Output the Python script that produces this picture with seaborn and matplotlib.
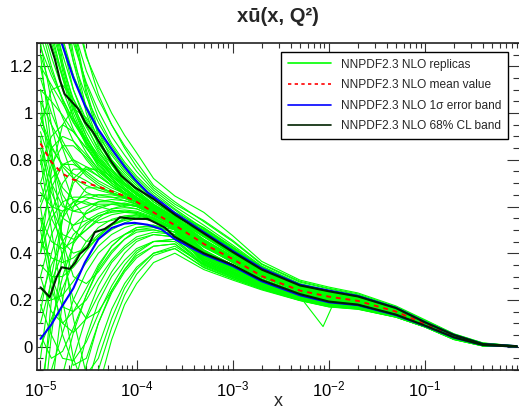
import numpy as np
import pandas as pd
import matplotlib
matplotlib.use("Agg")
import matplotlib.pyplot as plt
import seaborn as sns
from matplotlib.lines import Line2D
from matplotlib.ticker import FixedLocator, FixedFormatter, LogLocator, NullFormatter, MultipleLocator

# ---------------- data ----------------
X_GRID = [1e-5, 1.3e-5, 1.7e-5, 2.2e-5, 3e-5, 4e-5, 5.5e-5, 7.5e-5, 1e-4, 1.5e-4, 2.5e-4,
          5e-4, 1e-3, 2e-3, 5e-3, 1e-2, 2e-2, 5e-2, 0.1, 0.2, 0.4, 0.9]

REPLICAS = [
    [2.3, 1.95, 1.68, 1.45, 1.24, 1.12, 1.0, 0.905, 0.83, 0.72, 0.645, 0.575, 0.475, 0.365, 0.285, 0.255, 0.23, 0.174, 0.115, 0.055, 0.016, 0.003],
    [2.1, 1.8, 1.56, 1.36, 1.18, 1.06, 0.95, 0.86, 0.79, 0.69, 0.62, 0.535, 0.45, 0.352, 0.276, 0.247, 0.222, 0.166, 0.108, 0.051, 0.013, 0.002],
    [1.95, 1.7, 1.48, 1.3, 1.13, 1.01, 0.9, 0.82, 0.75, 0.67, 0.6, 0.52, 0.435, 0.345, 0.27, 0.24, 0.218, 0.17, 0.112, 0.053, 0.015, 0.002],
    [1.8, 1.58, 1.4, 1.22, 1.07, 0.96, 0.86, 0.78, 0.72, 0.65, 0.585, 0.495, 0.415, 0.335, 0.26, 0.236, 0.212, 0.158, 0.102, 0.048, 0.011, 0.002],
    [1.7, 1.5, 1.32, 1.16, 1.02, 0.92, 0.83, 0.76, 0.7, 0.63, 0.57, 0.485, 0.405, 0.328, 0.255, 0.228, 0.208, 0.162, 0.106, 0.05, 0.012, 0.002],
    [1.62, 1.42, 1.25, 1.1, 0.97, 0.88, 0.8, 0.74, 0.69, 0.62, 0.56, 0.445, 0.378, 0.303, 0.238, 0.216, 0.198, 0.152, 0.098, 0.046, 0.01, 0.001],
    [1.55, 1.36, 1.2, 1.06, 0.94, 0.85, 0.78, 0.72, 0.67, 0.61, 0.555, 0.48, 0.4, 0.322, 0.252, 0.225, 0.205, 0.157, 0.101, 0.047, 0.01, 0.001],
    [2.4, 1.9, 1.5, 1.22, 1.0, 0.86, 0.76, 0.69, 0.65, 0.6, 0.55, 0.455, 0.38, 0.31, 0.243, 0.218, 0.2, 0.148, 0.095, 0.044, 0.009, 0.001],
    [2.0, 1.6, 1.3, 1.1, 0.95, 0.84, 0.76, 0.7, 0.66, 0.6, 0.545, 0.43, 0.36, 0.29, 0.23, 0.205, 0.188, 0.143, 0.093, 0.041, 0.007, 0.001],
    [1.9, 1.5, 1.22, 1.04, 0.9, 0.8, 0.73, 0.68, 0.64, 0.59, 0.54, 0.45, 0.37, 0.3, 0.236, 0.21, 0.193, 0.151, 0.099, 0.046, 0.01, 0.001],
    [1.75, 1.42, 1.18, 1.0, 0.87, 0.78, 0.72, 0.67, 0.63, 0.585, 0.535, 0.41, 0.345, 0.285, 0.226, 0.2, 0.185, 0.141, 0.091, 0.04, 0.007, 0.001],
    [1.6, 1.35, 1.15, 0.98, 0.86, 0.77, 0.71, 0.66, 0.625, 0.58, 0.53, 0.44, 0.372, 0.306, 0.242, 0.216, 0.197, 0.149, 0.096, 0.044, 0.009, 0.001],
    [1.45, 1.3, 1.15, 1.02, 0.9, 0.81, 0.74, 0.69, 0.65, 0.6, 0.545, 0.47, 0.395, 0.318, 0.25, 0.226, 0.206, 0.158, 0.103, 0.049, 0.012, 0.002],
    [1.4, 1.24, 1.1, 0.98, 0.88, 0.8, 0.73, 0.68, 0.64, 0.595, 0.54, 0.455, 0.385, 0.31, 0.244, 0.22, 0.2, 0.153, 0.1, 0.046, 0.009, 0.001],
    [1.38, 1.2, 1.05, 0.93, 0.83, 0.76, 0.7, 0.66, 0.63, 0.58, 0.53, 0.405, 0.345, 0.283, 0.224, 0.196, 0.182, 0.139, 0.091, 0.039, 0.006, 0.001],
    [1.33, 1.18, 1.06, 0.96, 0.87, 0.8, 0.74, 0.69, 0.65, 0.595, 0.54, 0.49, 0.41, 0.33, 0.257, 0.232, 0.21, 0.16, 0.104, 0.049, 0.012, 0.002],
    [2.6, 2.0, 1.55, 1.25, 1.02, 0.88, 0.78, 0.71, 0.66, 0.61, 0.555, 0.5, 0.42, 0.338, 0.265, 0.238, 0.215, 0.163, 0.106, 0.05, 0.013, 0.002],
    [2.2, 1.85, 1.55, 1.32, 1.12, 0.98, 0.87, 0.79, 0.73, 0.66, 0.59, 0.505, 0.425, 0.34, 0.262, 0.24, 0.216, 0.164, 0.107, 0.05, 0.013, 0.002],
    [2.5, 2.1, 1.75, 1.48, 1.25, 1.08, 0.95, 0.85, 0.77, 0.68, 0.61, 0.54, 0.455, 0.355, 0.28, 0.25, 0.226, 0.17, 0.112, 0.054, 0.015, 0.003],
    [1.5, 1.32, 1.16, 1.03, 0.92, 0.83, 0.76, 0.7, 0.66, 0.6, 0.55, 0.46, 0.388, 0.312, 0.246, 0.22, 0.2, 0.152, 0.098, 0.045, 0.009, 0.001],
    [3.0, 2.3, 1.75, 1.38, 1.1, 0.92, 0.8, 0.72, 0.67, 0.61, 0.55, 0.475, 0.398, 0.32, 0.25, 0.224, 0.204, 0.156, 0.101, 0.047, 0.011, 0.001],
    [1.28, 1.16, 1.06, 0.97, 0.89, 0.82, 0.75, 0.7, 0.66, 0.605, 0.55, 0.47, 0.392, 0.316, 0.248, 0.222, 0.202, 0.155, 0.1, 0.046, 0.01, 0.001],
    [1.25, 1.1, 0.98, 0.88, 0.8, 0.74, 0.69, 0.65, 0.62, 0.575, 0.525, 0.415, 0.35, 0.287, 0.228, 0.202, 0.186, 0.142, 0.092, 0.041, 0.007, 0.001],
    [1.15, 1.0, 0.88, 0.8, 0.74, 0.7, 0.67, 0.645, 0.62, 0.58, 0.525, 0.435, 0.368, 0.3, 0.237, 0.212, 0.194, 0.148, 0.096, 0.044, 0.009, 0.001],
    [1.05, 0.95, 0.86, 0.79, 0.73, 0.69, 0.66, 0.64, 0.615, 0.575, 0.52, 0.41, 0.348, 0.285, 0.227, 0.2, 0.185, 0.142, 0.092, 0.04, 0.007, 0.001],
    [0.98, 0.86, 0.77, 0.72, 0.69, 0.67, 0.655, 0.635, 0.61, 0.57, 0.515, 0.44, 0.372, 0.302, 0.238, 0.212, 0.195, 0.15, 0.097, 0.045, 0.009, 0.001],
    [0.92, 0.78, 0.68, 0.63, 0.61, 0.61, 0.61, 0.6, 0.59, 0.56, 0.51, 0.402, 0.34, 0.28, 0.222, 0.196, 0.182, 0.14, 0.091, 0.04, 0.007, 0.001],
    [0.85, 0.66, 0.55, 0.52, 0.54, 0.57, 0.59, 0.595, 0.59, 0.56, 0.515, 0.43, 0.365, 0.298, 0.236, 0.21, 0.192, 0.147, 0.095, 0.043, 0.008, 0.001],
    [0.78, 0.9, 0.95, 0.92, 0.85, 0.78, 0.72, 0.67, 0.64, 0.59, 0.535, 0.488, 0.408, 0.33, 0.256, 0.23, 0.208, 0.159, 0.103, 0.048, 0.011, 0.002],
    [0.7, 0.85, 0.9, 0.88, 0.82, 0.76, 0.71, 0.67, 0.635, 0.585, 0.53, 0.445, 0.378, 0.308, 0.242, 0.216, 0.198, 0.151, 0.098, 0.045, 0.009, 0.001],
    [0.62, 0.78, 0.86, 0.86, 0.81, 0.75, 0.7, 0.66, 0.63, 0.58, 0.525, 0.398, 0.338, 0.279, 0.221, 0.195, 0.18, 0.138, 0.09, 0.039, 0.006, 0.001],
    [0.55, 0.45, 0.42, 0.45, 0.5, 0.54, 0.565, 0.575, 0.575, 0.55, 0.505, 0.395, 0.336, 0.278, 0.222, 0.19, 0.176, 0.136, 0.089, 0.038, 0.006, 0.0],
    [1.2, 0.95, 0.75, 0.62, 0.55, 0.53, 0.54, 0.555, 0.56, 0.545, 0.5, 0.365, 0.312, 0.262, 0.208, 0.18, 0.168, 0.131, 0.087, 0.035, 0.005, 0.0],
    [0.88, 0.7, 0.6, 0.58, 0.6, 0.62, 0.63, 0.625, 0.61, 0.575, 0.52, 0.438, 0.374, 0.304, 0.24, 0.215, 0.197, 0.15, 0.097, 0.045, 0.009, 0.001],
    [0.5, 0.68, 0.78, 0.8, 0.77, 0.73, 0.69, 0.655, 0.625, 0.58, 0.525, 0.492, 0.412, 0.334, 0.26, 0.234, 0.212, 0.161, 0.105, 0.049, 0.012, 0.002],
    [0.66, 0.6, 0.58, 0.6, 0.63, 0.65, 0.65, 0.64, 0.62, 0.58, 0.525, 0.442, 0.376, 0.306, 0.241, 0.214, 0.196, 0.15, 0.097, 0.045, 0.009, 0.001],
    [1.1, 0.82, 0.65, 0.58, 0.57, 0.59, 0.61, 0.615, 0.605, 0.57, 0.515, 0.403, 0.344, 0.283, 0.225, 0.198, 0.184, 0.141, 0.092, 0.04, 0.007, 0.001],
    [0.45, 0.58, 0.7, 0.76, 0.76, 0.73, 0.69, 0.66, 0.63, 0.585, 0.53, 0.448, 0.38, 0.31, 0.243, 0.217, 0.199, 0.152, 0.099, 0.046, 0.01, 0.001],
    [0.2, 0.35, 0.45, 0.52, 0.57, 0.6, 0.61, 0.61, 0.6, 0.565, 0.51, 0.4, 0.342, 0.282, 0.224, 0.198, 0.183, 0.14, 0.092, 0.04, 0.007, 0.001],
    [0.1, 0.28, 0.4, 0.48, 0.53, 0.56, 0.575, 0.58, 0.575, 0.55, 0.5, 0.362, 0.312, 0.26, 0.207, 0.182, 0.17, 0.132, 0.087, 0.035, 0.005, 0.0],
    [0.35, 0.3, 0.3, 0.34, 0.41, 0.47, 0.52, 0.545, 0.555, 0.54, 0.5, 0.39, 0.332, 0.276, 0.22, 0.193, 0.178, 0.137, 0.09, 0.039, 0.006, 0.001],
    [0.4, 0.55, 0.62, 0.64, 0.64, 0.63, 0.62, 0.61, 0.6, 0.565, 0.51, 0.432, 0.368, 0.3, 0.237, 0.212, 0.194, 0.149, 0.096, 0.044, 0.009, 0.001],
    [0.25, 0.2, 0.22, 0.28, 0.36, 0.43, 0.48, 0.51, 0.525, 0.52, 0.49, 0.358, 0.308, 0.258, 0.206, 0.181, 0.169, 0.131, 0.087, 0.035, 0.005, 0.0],
    [0.0, 0.12, 0.25, 0.36, 0.45, 0.51, 0.545, 0.56, 0.565, 0.545, 0.5, 0.396, 0.338, 0.28, 0.223, 0.197, 0.182, 0.139, 0.091, 0.04, 0.007, 0.001],
    [0.3, 0.48, 0.58, 0.62, 0.62, 0.6, 0.585, 0.575, 0.57, 0.55, 0.505, 0.41, 0.35, 0.288, 0.228, 0.203, 0.187, 0.143, 0.093, 0.041, 0.008, 0.001],
    [0.15, 0.4, 0.55, 0.62, 0.65, 0.65, 0.64, 0.625, 0.61, 0.575, 0.52, 0.45, 0.382, 0.31, 0.244, 0.218, 0.199, 0.152, 0.099, 0.046, 0.01, 0.001],
    [0.45, 0.38, 0.36, 0.38, 0.43, 0.48, 0.52, 0.54, 0.55, 0.54, 0.5, 0.37, 0.318, 0.265, 0.21, 0.184, 0.172, 0.133, 0.088, 0.036, 0.005, 0.0],
    [-0.6, -0.35, -0.12, 0.06, 0.22, 0.33, 0.41, 0.46, 0.49, 0.5, 0.48, 0.375, 0.32, 0.267, 0.212, 0.186, 0.173, 0.134, 0.088, 0.036, 0.005, 0.0],
    [-1.0, -0.7, -0.42, -0.18, 0.04, 0.19, 0.3, 0.37, 0.42, 0.45, 0.45, 0.355, 0.305, 0.256, 0.204, 0.176, 0.165, 0.128, 0.085, 0.033, 0.004, 0.0],
    [-1.5, -1.1, -0.75, -0.45, -0.18, 0.0, 0.16, 0.27, 0.34, 0.4, 0.42, 0.34, 0.292, 0.247, 0.199, 0.172, 0.162, 0.127, 0.084, 0.031, 0.003, 0.0],
    [-2.0, -1.5, -1.1, -0.75, -0.42, -0.18, 0.03, 0.18, 0.27, 0.36, 0.4, 0.33, 0.285, 0.243, 0.197, 0.17, 0.16, 0.126, 0.084, 0.03, 0.003, 0.0],
    [-0.3, -0.1, 0.06, 0.2, 0.32, 0.4, 0.45, 0.48, 0.5, 0.5, 0.48, 0.39, 0.334, 0.277, 0.221, 0.194, 0.18, 0.138, 0.09, 0.039, 0.006, 0.001],
    [-0.8, -0.5, -0.25, -0.05, 0.13, 0.26, 0.36, 0.42, 0.46, 0.48, 0.47, 0.368, 0.316, 0.264, 0.21, 0.185, 0.172, 0.133, 0.088, 0.036, 0.005, 0.0],
    [-1.2, -0.9, -0.6, -0.32, -0.08, 0.1, 0.23, 0.32, 0.38, 0.43, 0.44, 0.35, 0.3, 0.252, 0.202, 0.175, 0.164, 0.128, 0.085, 0.033, 0.004, 0.0],
    [0.6, 0.3, 0.05, -0.08, -0.05, 0.1, 0.24, 0.33, 0.39, 0.43, 0.44, 0.345, 0.296, 0.25, 0.2, 0.174, 0.163, 0.127, 0.085, 0.032, 0.004, 0.0],
    [0.8, 0.5, 0.2, -0.05, -0.2, -0.1, 0.08, 0.22, 0.31, 0.39, 0.42, 0.338, 0.29, 0.246, 0.198, 0.171, 0.161, 0.126, 0.084, 0.031, 0.003, 0.0],
    [1.25, 0.85, 0.45, 0.12, -0.12, -0.05, 0.12, 0.25, 0.33, 0.4, 0.43, 0.352, 0.302, 0.254, 0.203, 0.178, 0.166, 0.129, 0.086, 0.034, 0.004, 0.0],
    [-0.4, 0.05, 0.4, 0.6, 0.68, 0.68, 0.66, 0.64, 0.62, 0.58, 0.525, 0.485, 0.406, 0.328, 0.256, 0.229, 0.207, 0.158, 0.103, 0.048, 0.011, 0.002],
    [-0.3, 0.2, 0.55, 0.72, 0.77, 0.75, 0.71, 0.675, 0.64, 0.59, 0.535, 0.497, 0.418, 0.337, 0.262, 0.236, 0.214, 0.162, 0.106, 0.05, 0.013, 0.002],
    [0.55, 0.3, 0.17, 0.15, 0.2, 0.29, 0.37, 0.43, 0.47, 0.49, 0.48, 0.378, 0.322, 0.268, 0.213, 0.187, 0.174, 0.134, 0.088, 0.036, 0.005, 0.0],
    [0.18, 0.05, -0.05, -0.06, 0.02, 0.14, 0.26, 0.35, 0.41, 0.45, 0.46, 0.36, 0.308, 0.258, 0.206, 0.18, 0.168, 0.13, 0.086, 0.034, 0.004, 0.0],
    [1.3, 1.05, 0.85, 0.72, 0.66, 0.64, 0.64, 0.635, 0.62, 0.58, 0.525, 0.438, 0.372, 0.303, 0.239, 0.213, 0.195, 0.149, 0.096, 0.044, 0.009, 0.001],
    [0.95, 1.1, 1.12, 1.06, 0.96, 0.87, 0.79, 0.73, 0.68, 0.62, 0.56, 0.5, 0.418, 0.336, 0.259, 0.233, 0.211, 0.161, 0.105, 0.049, 0.012, 0.002],
    [0.4, 0.75, 0.95, 1.02, 0.98, 0.9, 0.82, 0.75, 0.7, 0.63, 0.565, 0.507, 0.424, 0.34, 0.263, 0.237, 0.214, 0.163, 0.106, 0.05, 0.013, 0.002],
    [0.3, 0.15, 0.1, 0.15, 0.25, 0.35, 0.43, 0.48, 0.51, 0.52, 0.5, 0.385, 0.328, 0.272, 0.216, 0.19, 0.176, 0.136, 0.089, 0.038, 0.006, 0.0],
    [0.7, 0.55, 0.45, 0.4, 0.42, 0.47, 0.52, 0.55, 0.565, 0.55, 0.505, 0.412, 0.35, 0.288, 0.228, 0.203, 0.186, 0.143, 0.093, 0.041, 0.008, 0.001],
    [1.0, 0.8, 0.62, 0.5, 0.45, 0.46, 0.5, 0.53, 0.55, 0.54, 0.5, 0.378, 0.322, 0.268, 0.213, 0.187, 0.174, 0.134, 0.088, 0.037, 0.005, 0.0],
    [-0.05, 0.3, 0.55, 0.7, 0.76, 0.76, 0.73, 0.69, 0.65, 0.6, 0.54, 0.478, 0.4, 0.324, 0.253, 0.226, 0.206, 0.157, 0.102, 0.047, 0.011, 0.002],
    [0.05, -0.05, -0.02, 0.08, 0.22, 0.34, 0.43, 0.48, 0.51, 0.515, 0.49, 0.388, 0.33, 0.274, 0.218, 0.192, 0.178, 0.137, 0.09, 0.038, 0.006, 0.0],
    [1.05, 0.7, 0.45, 0.3, 0.27, 0.32, 0.4, 0.46, 0.5, 0.51, 0.49, 0.382, 0.326, 0.271, 0.215, 0.189, 0.175, 0.135, 0.089, 0.037, 0.006, 0.0],
    [0.6, 0.72, 0.78, 0.78, 0.75, 0.71, 0.68, 0.655, 0.63, 0.585, 0.53, 0.452, 0.383, 0.31, 0.244, 0.218, 0.2, 0.152, 0.099, 0.046, 0.01, 0.001],
    [1.2, 1.12, 1.04, 0.96, 0.88, 0.81, 0.75, 0.7, 0.66, 0.605, 0.55, 0.472, 0.396, 0.321, 0.251, 0.226, 0.205, 0.156, 0.101, 0.047, 0.011, 0.001],
    [1.1, 1.05, 0.99, 0.92, 0.85, 0.79, 0.74, 0.69, 0.655, 0.6, 0.545, 0.458, 0.385, 0.313, 0.246, 0.22, 0.201, 0.153, 0.1, 0.046, 0.01, 0.001],
    [0.82, 0.6, 0.48, 0.46, 0.5, 0.55, 0.59, 0.605, 0.605, 0.57, 0.515, 0.425, 0.362, 0.296, 0.234, 0.208, 0.191, 0.146, 0.095, 0.043, 0.008, 0.001],
    [-0.2, 0.1, 0.3, 0.44, 0.52, 0.56, 0.58, 0.585, 0.58, 0.555, 0.505, 0.408, 0.348, 0.286, 0.226, 0.2, 0.185, 0.142, 0.092, 0.04, 0.007, 0.001],
    [0.9, 0.62, 0.38, 0.2, 0.12, 0.15, 0.24, 0.33, 0.4, 0.45, 0.46, 0.35, 0.298, 0.25, 0.2, 0.174, 0.163, 0.127, 0.085, 0.032, 0.004, 0.0],
    [1.8, 1.45, 1.2, 1.02, 0.88, 0.79, 0.72, 0.67, 0.635, 0.59, 0.54, 0.432, 0.366, 0.3, 0.236, 0.211, 0.194, 0.148, 0.096, 0.044, 0.009, 0.001],
    [2.8, 2.2, 1.7, 1.35, 1.08, 0.9, 0.78, 0.7, 0.65, 0.6, 0.545, 0.448, 0.38, 0.308, 0.242, 0.217, 0.199, 0.151, 0.098, 0.045, 0.009, 0.001],
    [1.6, 1.45, 1.3, 1.16, 1.03, 0.93, 0.84, 0.77, 0.71, 0.64, 0.575, 0.51, 0.428, 0.343, 0.265, 0.24, 0.217, 0.165, 0.108, 0.051, 0.013, 0.002],
    [-0.7, -0.2, 0.2, 0.45, 0.58, 0.62, 0.62, 0.61, 0.6, 0.565, 0.515, 0.43, 0.366, 0.3, 0.237, 0.212, 0.194, 0.148, 0.096, 0.044, 0.009, 0.001],
    [0.5, 0.25, 0.1, 0.06, 0.12, 0.22, 0.32, 0.4, 0.45, 0.48, 0.47, 0.37, 0.316, 0.264, 0.21, 0.184, 0.171, 0.132, 0.087, 0.036, 0.005, 0.0],
]

# replica with a sharp dip near x = 1e-2
DIP_X = [1e-5, 1.3e-5, 1.7e-5, 2.2e-5, 3e-5, 4e-5, 5.5e-5, 7.5e-5, 1e-4, 1.5e-4, 2.5e-4,
         5e-4, 1e-3, 2e-3, 5.1e-3, 8.7e-3, 1.13e-2, 2e-2, 5e-2, 0.1, 0.2, 0.4, 0.9]
DIP_Y = [0.95, 0.85, 0.78, 0.74, 0.71, 0.68, 0.66, 0.64, 0.62, 0.575, 0.52,
         0.43, 0.36, 0.29, 0.21, 0.086, 0.19, 0.188, 0.142, 0.094, 0.043, 0.008, 0.001]

MEAN_VALUES = [0.87, 0.79, 0.74, 0.715, 0.70, 0.685, 0.665, 0.645, 0.62, 0.575, 0.52,
               0.44, 0.375, 0.302, 0.24, 0.214, 0.196, 0.15, 0.097, 0.045, 0.009, 0.001]

SIGMA_X = [1e-5, 1.3e-5, 1.66e-5, 2.2e-5, 2.9e-5, 4e-5, 5.5e-5, 7.5e-5, 9.5e-5, 1.3e-4, 1.8e-4,
           2.5e-4, 5e-4, 1e-3, 2e-3, 5e-3, 1e-2, 2e-2, 5e-2, 0.1, 0.2, 0.4, 0.9]
SIGMA_UP = [1.75, 1.50, 1.30, 1.15, 1.032, 0.93, 0.847, 0.77, 0.718, 0.66, 0.618,
            0.572, 0.49, 0.41, 0.335, 0.265, 0.24, 0.217, 0.166, 0.105, 0.05, 0.011, 0.002]
SIGMA_LO = [0.033, 0.095, 0.17, 0.25, 0.361, 0.46, 0.508, 0.527, 0.53, 0.522, 0.503,
            0.46, 0.395, 0.345, 0.28, 0.22, 0.19, 0.178, 0.135, 0.089, 0.039, 0.007, 0.0]

CL_UP_X = [1e-5, 1.25e-5, 1.41e-5, 1.6e-5, 1.78e-5, 2.1e-5, 2.47e-5, 2.9e-5, 3.5e-5, 4.3e-5, 5.5e-5,
           6.9e-5, 9.5e-5, 1.5e-4, 2.5e-4, 5e-4, 1e-3, 2e-3, 5e-3, 1e-2, 2e-2, 5e-2, 0.1, 0.2, 0.4, 0.9]
CL_UP = [1.42, 1.30, 1.232, 1.14, 1.082, 1.05, 1.018, 0.961, 0.92, 0.861, 0.79,
         0.732, 0.683, 0.632, 0.565, 0.485, 0.405, 0.33, 0.262, 0.237, 0.215, 0.165, 0.104, 0.05, 0.011, 0.002]

CL_LO_X = [1e-5, 1.25e-5, 1.47e-5, 1.66e-5, 2.02e-5, 2.3e-5, 2.57e-5, 3.1e-5, 3.67e-5, 4.66e-5, 5.9e-5,
           6.7e-5, 8e-5, 9.5e-5, 1.3e-4, 1.95e-4, 2.5e-4, 5e-4, 1e-3, 2e-3, 5e-3, 1e-2, 2e-2, 5e-2, 0.1, 0.2, 0.4, 0.9]
CL_LO = [0.254, 0.212, 0.297, 0.34, 0.333, 0.36, 0.397, 0.426, 0.49, 0.504, 0.533,
         0.554, 0.55, 0.547, 0.547, 0.511, 0.47, 0.40, 0.35, 0.285, 0.225, 0.193, 0.18, 0.137, 0.09, 0.04, 0.007, 0.0]

X_TICKS = [1e-5, 1e-4, 1e-3, 1e-2, 1e-1]
X_TICK_LABELS = [r"$10^{-5}$", r"$10^{-4}$", r"$10^{-3}$", r"$10^{-2}$", r"$10^{-1}$"]
Y_TICKS = [0, 0.2, 0.4, 0.6, 0.8, 1.0, 1.2]
Y_TICK_LABELS = ["0", "0.2", "0.4", "0.6", "0.8", "1", "1.2"]
LEGEND_LABELS = ["NNPDF2.3 NLO replicas", "NNPDF2.3 NLO mean value",
                 "NNPDF2.3 NLO 1σ error band", "NNPDF2.3 NLO 68% CL band"]
TITLE = "xū(x, Q²)"

# ---------------- style ----------------
sns.set_theme(style="ticks")
plt.rcParams["font.family"] = ["Liberation Sans", "DejaVu Sans"]
plt.rcParams["mathtext.fontset"] = "custom"
plt.rcParams["mathtext.rm"] = "Liberation Sans"
plt.rcParams["mathtext.it"] = "Liberation Sans"
plt.rcParams["mathtext.default"] = "rm"

GREEN = "#00ff00"
RED = "#ff0000"
BLUE = "#0000ff"
DARK = "#002200"

fig = plt.figure(figsize=(5.19, 4.12), dpi=100)
fig.patch.set_facecolor("white")
ax = fig.add_axes([37 / 519, 42 / 412, (519 - 37) / 519, (370 - 43) / 412])
ax.set_facecolor("white")

rows = []
for i, vals in enumerate(REPLICAS):
    for xv, yv in zip(X_GRID, vals):
        rows.append((i, xv, yv))
for xv, yv in zip(DIP_X, DIP_Y):
    rows.append((len(REPLICAS), xv, yv))
df = pd.DataFrame(rows, columns=["replica", "x", "y"])

sns.lineplot(data=df, x="x", y="y", units="replica", estimator=None, sort=False,
             color=GREEN, lw=0.8, ax=ax, legend=False)
sns.lineplot(x=X_GRID, y=MEAN_VALUES, color=RED, lw=1.4, linestyle=(0, (2.5, 2.5)),
             sort=False, ax=ax, legend=False)
sns.lineplot(x=SIGMA_X, y=SIGMA_UP, color=BLUE, lw=1.5, sort=False, ax=ax, legend=False)
sns.lineplot(x=SIGMA_X, y=SIGMA_LO, color=BLUE, lw=1.5, sort=False, ax=ax, legend=False)
sns.lineplot(x=CL_UP_X, y=CL_UP, color=DARK, lw=1.5, sort=False, ax=ax, legend=False)
sns.lineplot(x=CL_LO_X, y=CL_LO, color=DARK, lw=1.5, sort=False, ax=ax, legend=False)

ax.set_xscale("log")
ax.set_xlim(10 ** -5.036, 0.95)
ax.set_ylim(-0.1, 1.3)
ax.set_xlabel("")
ax.set_ylabel("")

ax.xaxis.set_major_locator(FixedLocator(X_TICKS))
ax.xaxis.set_major_formatter(FixedFormatter(X_TICK_LABELS))
ax.xaxis.set_minor_locator(LogLocator(base=10, subs=np.arange(2, 10), numticks=30))
ax.xaxis.set_minor_formatter(NullFormatter())
ax.yaxis.set_major_locator(FixedLocator(Y_TICKS))
ax.yaxis.set_major_formatter(FixedFormatter(Y_TICK_LABELS))
ax.yaxis.set_minor_locator(MultipleLocator(0.05))

tick_col = "#333333"
ax.tick_params(which="both", direction="in", top=True, right=True, colors=tick_col,
               labelcolor="black")
ax.tick_params(axis="x", which="major", length=7, width=0.8, pad=7, labelsize=12)
ax.tick_params(axis="x", which="minor", length=3.6, width=0.8)
ax.tick_params(axis="y", which="major", length=9, width=0.8, pad=3, labelsize=12)
ax.tick_params(axis="y", which="minor", length=4.5, width=0.8)

for side in ["left", "bottom", "top"]:
    ax.spines[side].set_color("#222222")
    ax.spines[side].set_linewidth(1.2)
ax.spines["right"].set_visible(False)

fig.text(278 / 519, 1 - 16 / 412, TITLE, fontsize=14.5, fontweight="bold",
         ha="center", va="center")
fig.text(278 / 519, 1 - 402 / 412, "x", fontsize=13, ha="center", va="center")

handles = [Line2D([], [], color=GREEN, lw=1.2),
           Line2D([], [], color=RED, lw=1.2, linestyle=(0, (2, 2))),
           Line2D([], [], color=BLUE, lw=1.2),
           Line2D([], [], color=DARK, lw=1.2)]
leg = fig.legend(handles, LEGEND_LABELS, loc="upper right",
                 bbox_to_anchor=(508 / 519, 1 - 52 / 412), fontsize=8.6,
                 handlelength=3.6, handletextpad=0.85, labelspacing=0.72,
                 borderpad=0.55, borderaxespad=0, frameon=True, fancybox=False,
                 edgecolor="black", framealpha=1)
leg.get_frame().set_linewidth(1.0)

fig.savefig("out.png", dpi=100, facecolor="white")
